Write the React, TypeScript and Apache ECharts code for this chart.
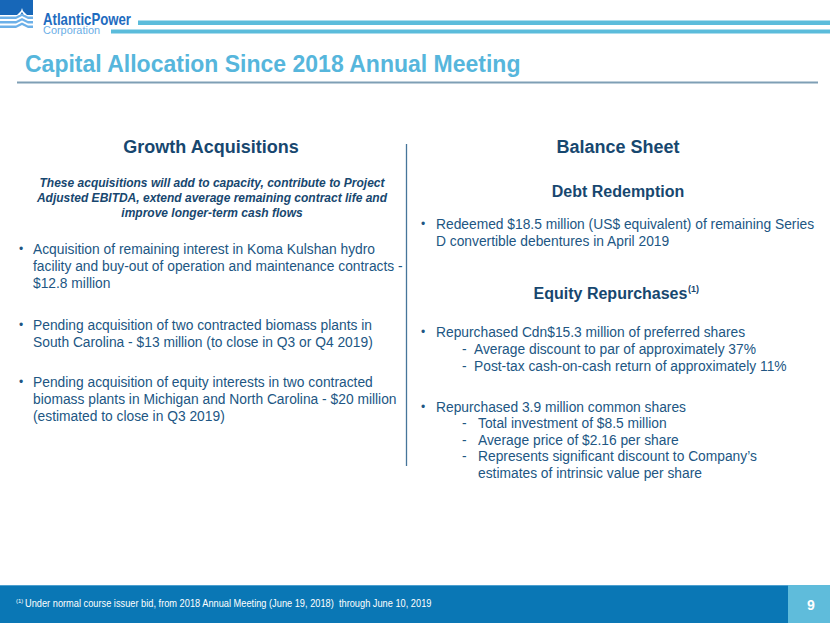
import React, { useEffect, useRef } from "react";
import * as echarts from "echarts";

const TITLE = "Capital Allocation Since 2018 Annual Meeting";
const LEFT_HEADING = "Growth Acquisitions";
const LEFT_INTRO = [
  "These acquisitions will add to capacity, contribute to Project",
  "Adjusted EBITDA, extend average remaining contract life and",
  "improve longer-term cash flows",
];
const LEFT_BULLETS = [
  [
    "Acquisition of remaining interest in Koma Kulshan hydro",
    "facility and buy-out of operation and maintenance contracts -",
    "$12.8 million",
  ],
  [
    "Pending acquisition of two contracted biomass plants in",
    "South Carolina - $13 million (to close in Q3 or Q4 2019)",
  ],
  [
    "Pending acquisition of equity interests in two contracted",
    "biomass plants in Michigan and North Carolina - $20 million",
    "(estimated to close in Q3 2019)",
  ],
];
const RIGHT_HEADING = "Balance Sheet";
const DEBT_HEADING = "Debt Redemption";
const DEBT_LINES = [
  "Redeemed $18.5 million (US$ equivalent) of remaining Series",
  "D convertible debentures in April 2019",
];
const EQUITY_HEADING = "Equity Repurchases";
const PREF_LINE = "Repurchased Cdn$15.3 million of preferred shares";
const PREF_SUB = [
  "Average discount to par of approximately 37%",
  "Post-tax cash-on-cash return of approximately 11%",
];
const COMMON_LINE = "Repurchased 3.9 million common shares";
const COMMON_SUB = [
  ["Total investment of $8.5 million"],
  ["Average price of $2.16 per share"],
  ["Represents significant discount to Company\u2019s", "estimates of intrinsic value per share"],
];
const FOOTNOTE = "Under normal course issuer bid, from 2018 Annual Meeting (June 19, 2018)  through June 10, 2019";
const PAGE = "9";

const FF = '"Liberation Sans", Arial, Helvetica, sans-serif';
const HEAD = "#17476f";
const BODY = "#215683";
const LIGHT = "#5bbcdb";
const LH = 17;
const BODY_SIZE = 13.8;

function txt(text: string, x: number, y: number, opts: any = {}) {
  const align = opts.align || "left";
  return {
    type: "text",
    scaleX: opts.scaleX || 1,
    originX: x,
    silent: true,
    style: {
      text,
      x,
      y,
      fill: opts.fill || BODY,
      font: `${opts.style || "normal"} ${opts.weight || "normal"} ${opts.size || BODY_SIZE}px ${opts.family || FF}`,
      textAlign: align,
      align,
      textVerticalAlign: "middle",
      verticalAlign: "middle",
    },
  };
}

export default function App() {
  const ref = useRef<HTMLDivElement>(null);
  useEffect(() => {
    document.body.style.margin = "0";
    const chart = echarts.init(ref.current!, null, { renderer: "svg" });
    const g: any[] = [];

    // header stripes
    g.push({ type: "rect", shape: { x: 138, y: 20.5, width: 692, height: 4.5 }, style: { fill: LIGHT } });
    g.push({ type: "rect", shape: { x: 111, y: 29.5, width: 719, height: 4 }, style: { fill: LIGHT } });

    // logo icon
    g.push({ type: "rect", shape: { x: 0, y: 0, width: 33, height: 15 }, style: { fill: "#1767b8" } });
    [16.5, 21, 25.5].forEach((y) => {
      g.push({
        type: "polygon",
        shape: {
          points: [
            [0, y], [16, y], [21, y - 2.5], [22, y - 3], [23, y - 2.5], [28, y], [33, y],
            [33, y + 2.5], [28, y + 2.5], [22, y - 0.5], [16, y + 2.5], [0, y + 2.5],
          ],
        },
        style: { fill: "#6cb0e8" },
      });
    });
    g.push({
      type: "polygon",
      shape: { points: [[17, 15], [21, 11], [22, 8], [23, 11], [27, 15], [24, 15], [22, 12], [20, 15]] },
      style: { fill: "#ffffff" },
    });
    g.push(txt("AtlanticPower", 43, 19, { weight: "bold", size: 16.5, fill: "#1f6cc0", scaleX: 0.8 }));
    g.push(txt("Corporation", 43, 30, { size: 11.5, fill: "#6aaee6", scaleX: 0.95 }));

    // title + rule
    g.push(txt(TITLE, 25, 64, { weight: "bold", size: 23, fill: "#56b6dc" }));
    g.push({ type: "line", shape: { x1: 17, y1: 82.5, x2: 818, y2: 82.5 }, style: { stroke: "#7f9fb5", lineWidth: 2 } });

    // divider
    g.push({ type: "line", shape: { x1: 406.5, y1: 144, x2: 406.5, y2: 466 }, style: { stroke: "#46759a", lineWidth: 1.3 } });

    // left column
    g.push(txt(LEFT_HEADING, 211, 147, { align: "center", weight: "bold", size: 18, fill: HEAD }));
    LEFT_INTRO.forEach((l, i) =>
      g.push(txt(l, 212, 183 + i * 15, { align: "center", weight: "bold", style: "italic", size: 12, fill: HEAD }))
    );
    const leftY = [249, 325, 382];
    LEFT_BULLETS.forEach((lines, b) => {
      g.push(txt("\u2022", 19, leftY[b], { size: 12 }));
      lines.forEach((l, i) => g.push(txt(l, 33, leftY[b] + i * LH)));
    });

    // right column
    g.push(txt(RIGHT_HEADING, 618, 147, { align: "center", weight: "bold", size: 18, fill: HEAD }));
    g.push(txt(DEBT_HEADING, 618, 191, { align: "center", weight: "bold", size: 16, fill: HEAD }));
    g.push(txt("\u2022", 421, 224, { size: 12 }));
    DEBT_LINES.forEach((l, i) => g.push(txt(l, 436, 224 + i * LH)));

    g.push(txt(EQUITY_HEADING, 610.5, 293, { align: "center", weight: "bold", size: 16, fill: HEAD }));
    g.push(txt("(1)", 688, 289, { weight: "bold", size: 9, fill: HEAD }));

    g.push(txt("\u2022", 421, 332, { size: 12 }));
    g.push(txt(PREF_LINE, 436, 332));
    PREF_SUB.forEach((l, i) => {
      g.push(txt("-", 462, 349 + i * LH));
      g.push(txt(l, 474, 349 + i * LH));
    });

    g.push(txt("\u2022", 421, 407, { size: 12 }));
    g.push(txt(COMMON_LINE, 436, 407));
    let cy = 423.5;
    COMMON_SUB.forEach((lines) => {
      g.push(txt("-", 462, cy));
      lines.forEach((l) => {
        g.push(txt(l, 478, cy));
        cy += 16.6;
      });
    });

    // footer
    g.push({ type: "rect", shape: { x: 0, y: 585, width: 830, height: 38 }, style: { fill: "#0a77b5" } });
    g.push({ type: "rect", shape: { x: 0, y: 585, width: 830, height: 1 }, style: { fill: "#4da0cf" } });
    g.push({ type: "rect", shape: { x: 788, y: 585, width: 42, height: 38 }, style: { fill: "#5fbcdb" } });
    g.push(txt("(1)", 16, 601, { size: 6, fill: "#ffffff" }));
    g.push(txt(FOOTNOTE, 25, 603.5, { size: 10, fill: "#ffffff", scaleX: 0.925 }));
    g.push(txt(PAGE, 811, 605, { align: "center", weight: "bold", size: 14, fill: "#ffffff" }));

    chart.setOption({ animation: false, graphic: { elements: g } });
    return () => chart.dispose();
  }, []);
  return <div ref={ref} style={{ width: 830, height: 623, background: "#fff" }} />;
}
